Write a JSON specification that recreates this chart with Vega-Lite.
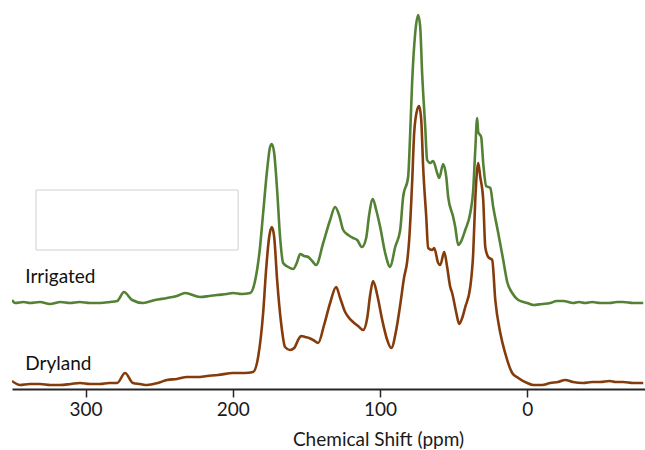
{
  "$schema": "https://vega.github.io/schema/vega-lite/v6.json",
  "width": 633,
  "height": 389,
  "padding": {"left": 12, "top": 0, "right": 0, "bottom": 0},
  "config": {"view": {"stroke": null}, "font": "Lato"},
  "data": {"values": [
      {"series": "Irrigated", "ppm": 350, "v": 89},
      {"series": "Irrigated", "ppm": 347.9, "v": 86},
      {"series": "Irrigated", "ppm": 342, "v": 87},
      {"series": "Irrigated", "ppm": 337.8, "v": 86},
      {"series": "Irrigated", "ppm": 331, "v": 87},
      {"series": "Irrigated", "ppm": 324.2, "v": 85},
      {"series": "Irrigated", "ppm": 317, "v": 87},
      {"series": "Irrigated", "ppm": 310.6, "v": 86},
      {"series": "Irrigated", "ppm": 304, "v": 87},
      {"series": "Irrigated", "ppm": 297.0, "v": 86},
      {"series": "Irrigated", "ppm": 290, "v": 86},
      {"series": "Irrigated", "ppm": 283.4, "v": 87},
      {"series": "Irrigated", "ppm": 278.6, "v": 88},
      {"series": "Irrigated", "ppm": 273.9, "v": 97},
      {"series": "Irrigated", "ppm": 268.4, "v": 89},
      {"series": "Irrigated", "ppm": 261.0, "v": 86},
      {"series": "Irrigated", "ppm": 252.8, "v": 89},
      {"series": "Irrigated", "ppm": 244.7, "v": 91},
      {"series": "Irrigated", "ppm": 238, "v": 93},
      {"series": "Irrigated", "ppm": 232.4, "v": 96},
      {"series": "Irrigated", "ppm": 222.2, "v": 92},
      {"series": "Irrigated", "ppm": 216, "v": 93},
      {"series": "Irrigated", "ppm": 210.7, "v": 94},
      {"series": "Irrigated", "ppm": 204, "v": 95},
      {"series": "Irrigated", "ppm": 199.8, "v": 96},
      {"series": "Irrigated", "ppm": 194, "v": 95},
      {"series": "Irrigated", "ppm": 188.2, "v": 96},
      {"series": "Irrigated", "ppm": 184.9, "v": 108},
      {"series": "Irrigated", "ppm": 181.5, "v": 142},
      {"series": "Irrigated", "ppm": 179.4, "v": 176},
      {"series": "Irrigated", "ppm": 176.7, "v": 219},
      {"series": "Irrigated", "ppm": 174.7, "v": 242},
      {"series": "Irrigated", "ppm": 173.5, "v": 245},
      {"series": "Irrigated", "ppm": 171.9, "v": 236},
      {"series": "Irrigated", "ppm": 169.9, "v": 199},
      {"series": "Irrigated", "ppm": 167.9, "v": 152},
      {"series": "Irrigated", "ppm": 165.8, "v": 126},
      {"series": "Irrigated", "ppm": 162.4, "v": 122},
      {"series": "Irrigated", "ppm": 159.0, "v": 120},
      {"series": "Irrigated", "ppm": 156.3, "v": 127},
      {"series": "Irrigated", "ppm": 154.3, "v": 135},
      {"series": "Irrigated", "ppm": 151.5, "v": 133},
      {"series": "Irrigated", "ppm": 148.8, "v": 132},
      {"series": "Irrigated", "ppm": 146.1, "v": 128},
      {"series": "Irrigated", "ppm": 143.4, "v": 124},
      {"series": "Irrigated", "ppm": 138.6, "v": 146},
      {"series": "Irrigated", "ppm": 133.9, "v": 169},
      {"series": "Irrigated", "ppm": 130.5, "v": 182},
      {"series": "Irrigated", "ppm": 127.8, "v": 174},
      {"series": "Irrigated", "ppm": 125.0, "v": 159},
      {"series": "Irrigated", "ppm": 121.6, "v": 154},
      {"series": "Irrigated", "ppm": 118.3, "v": 151},
      {"series": "Irrigated", "ppm": 115.5, "v": 149},
      {"series": "Irrigated", "ppm": 112.3, "v": 142},
      {"series": "Irrigated", "ppm": 109.4, "v": 151},
      {"series": "Irrigated", "ppm": 107.4, "v": 174},
      {"series": "Irrigated", "ppm": 104.9, "v": 190},
      {"series": "Irrigated", "ppm": 102.6, "v": 179},
      {"series": "Irrigated", "ppm": 99.9, "v": 162},
      {"series": "Irrigated", "ppm": 96.5, "v": 136},
      {"series": "Irrigated", "ppm": 93.1, "v": 122},
      {"series": "Irrigated", "ppm": 89.7, "v": 142},
      {"series": "Irrigated", "ppm": 86.3, "v": 159},
      {"series": "Irrigated", "ppm": 84.3, "v": 192},
      {"series": "Irrigated", "ppm": 80.9, "v": 212},
      {"series": "Irrigated", "ppm": 79.5, "v": 256},
      {"series": "Irrigated", "ppm": 78.2, "v": 306},
      {"series": "Irrigated", "ppm": 76.1, "v": 356},
      {"series": "Irrigated", "ppm": 74.1, "v": 374},
      {"series": "Irrigated", "ppm": 72.7, "v": 362},
      {"series": "Irrigated", "ppm": 71.4, "v": 316},
      {"series": "Irrigated", "ppm": 69.3, "v": 262},
      {"series": "Irrigated", "ppm": 68.0, "v": 229},
      {"series": "Irrigated", "ppm": 65.9, "v": 226},
      {"series": "Irrigated", "ppm": 63.9, "v": 228},
      {"series": "Irrigated", "ppm": 61.2, "v": 216},
      {"series": "Irrigated", "ppm": 59.8, "v": 211},
      {"series": "Irrigated", "ppm": 57.1, "v": 225},
      {"series": "Irrigated", "ppm": 55.0, "v": 212},
      {"series": "Irrigated", "ppm": 53.7, "v": 192},
      {"series": "Irrigated", "ppm": 50.3, "v": 172},
      {"series": "Irrigated", "ppm": 48.9, "v": 162},
      {"series": "Irrigated", "ppm": 46.9, "v": 144},
      {"series": "Irrigated", "ppm": 45.5, "v": 146},
      {"series": "Irrigated", "ppm": 42.1, "v": 159},
      {"series": "Irrigated", "ppm": 38.7, "v": 176},
      {"series": "Irrigated", "ppm": 36.7, "v": 199},
      {"series": "Irrigated", "ppm": 35.3, "v": 239},
      {"series": "Irrigated", "ppm": 34.0, "v": 271},
      {"series": "Irrigated", "ppm": 33.3, "v": 257},
      {"series": "Irrigated", "ppm": 31.3, "v": 252},
      {"series": "Irrigated", "ppm": 29.9, "v": 226},
      {"series": "Irrigated", "ppm": 27.9, "v": 203},
      {"series": "Irrigated", "ppm": 25.1, "v": 201},
      {"series": "Irrigated", "ppm": 23.1, "v": 182},
      {"series": "Irrigated", "ppm": 19.7, "v": 156},
      {"series": "Irrigated", "ppm": 16.3, "v": 129},
      {"series": "Irrigated", "ppm": 13.6, "v": 107},
      {"series": "Irrigated", "ppm": 10.2, "v": 96},
      {"series": "Irrigated", "ppm": 6.1, "v": 89},
      {"series": "Irrigated", "ppm": 0, "v": 86},
      {"series": "Irrigated", "ppm": -4.1, "v": 84},
      {"series": "Irrigated", "ppm": -10, "v": 85},
      {"series": "Irrigated", "ppm": -15.6, "v": 86},
      {"series": "Irrigated", "ppm": -20, "v": 88},
      {"series": "Irrigated", "ppm": -24.5, "v": 88},
      {"series": "Irrigated", "ppm": -31.3, "v": 86},
      {"series": "Irrigated", "ppm": -35, "v": 87},
      {"series": "Irrigated", "ppm": -39.4, "v": 86},
      {"series": "Irrigated", "ppm": -44, "v": 87},
      {"series": "Irrigated", "ppm": -49.6, "v": 86},
      {"series": "Irrigated", "ppm": -56, "v": 86},
      {"series": "Irrigated", "ppm": -61, "v": 87},
      {"series": "Irrigated", "ppm": -65.2, "v": 87},
      {"series": "Irrigated", "ppm": -72, "v": 86},
      {"series": "Irrigated", "ppm": -78.8, "v": 86},
      {"series": "Dryland", "ppm": 350, "v": 8},
      {"series": "Dryland", "ppm": 344.6, "v": 4},
      {"series": "Dryland", "ppm": 338, "v": 5},
      {"series": "Dryland", "ppm": 331.0, "v": 5},
      {"series": "Dryland", "ppm": 324, "v": 4},
      {"series": "Dryland", "ppm": 317.4, "v": 4},
      {"series": "Dryland", "ppm": 310, "v": 5},
      {"series": "Dryland", "ppm": 303.8, "v": 6},
      {"series": "Dryland", "ppm": 297, "v": 5},
      {"series": "Dryland", "ppm": 290.2, "v": 5},
      {"series": "Dryland", "ppm": 284, "v": 6},
      {"series": "Dryland", "ppm": 278.6, "v": 6},
      {"series": "Dryland", "ppm": 273.2, "v": 16},
      {"series": "Dryland", "ppm": 267.8, "v": 6},
      {"series": "Dryland", "ppm": 263, "v": 5},
      {"series": "Dryland", "ppm": 258.2, "v": 4},
      {"series": "Dryland", "ppm": 251, "v": 6},
      {"series": "Dryland", "ppm": 244.7, "v": 9},
      {"series": "Dryland", "ppm": 238, "v": 10},
      {"series": "Dryland", "ppm": 231.1, "v": 12},
      {"series": "Dryland", "ppm": 224, "v": 12},
      {"series": "Dryland", "ppm": 217.5, "v": 13},
      {"series": "Dryland", "ppm": 210, "v": 14},
      {"series": "Dryland", "ppm": 199.8, "v": 16},
      {"series": "Dryland", "ppm": 192, "v": 16},
      {"series": "Dryland", "ppm": 186.2, "v": 17},
      {"series": "Dryland", "ppm": 182.8, "v": 32},
      {"series": "Dryland", "ppm": 179.4, "v": 76},
      {"series": "Dryland", "ppm": 177.4, "v": 119},
      {"series": "Dryland", "ppm": 175.3, "v": 152},
      {"series": "Dryland", "ppm": 173.5, "v": 162},
      {"series": "Dryland", "ppm": 171.9, "v": 152},
      {"series": "Dryland", "ppm": 169.9, "v": 109},
      {"series": "Dryland", "ppm": 167.2, "v": 66},
      {"series": "Dryland", "ppm": 164.5, "v": 42},
      {"series": "Dryland", "ppm": 161.1, "v": 39},
      {"series": "Dryland", "ppm": 158.3, "v": 41},
      {"series": "Dryland", "ppm": 154.9, "v": 51},
      {"series": "Dryland", "ppm": 153.6, "v": 53},
      {"series": "Dryland", "ppm": 150.9, "v": 52},
      {"series": "Dryland", "ppm": 148.2, "v": 51},
      {"series": "Dryland", "ppm": 145.4, "v": 49},
      {"series": "Dryland", "ppm": 142.0, "v": 46},
      {"series": "Dryland", "ppm": 138.0, "v": 64},
      {"series": "Dryland", "ppm": 133.9, "v": 86},
      {"series": "Dryland", "ppm": 129.8, "v": 102},
      {"series": "Dryland", "ppm": 127.1, "v": 91},
      {"series": "Dryland", "ppm": 123.7, "v": 77},
      {"series": "Dryland", "ppm": 121.0, "v": 71},
      {"series": "Dryland", "ppm": 118.3, "v": 67},
      {"series": "Dryland", "ppm": 114.9, "v": 63},
      {"series": "Dryland", "ppm": 111.5, "v": 59},
      {"series": "Dryland", "ppm": 108.7, "v": 71},
      {"series": "Dryland", "ppm": 106.7, "v": 94},
      {"series": "Dryland", "ppm": 104.7, "v": 108},
      {"series": "Dryland", "ppm": 101.9, "v": 94},
      {"series": "Dryland", "ppm": 98.5, "v": 69},
      {"series": "Dryland", "ppm": 95.1, "v": 49},
      {"series": "Dryland", "ppm": 92.4, "v": 41},
      {"series": "Dryland", "ppm": 89.0, "v": 59},
      {"series": "Dryland", "ppm": 86.3, "v": 84},
      {"series": "Dryland", "ppm": 83.6, "v": 112},
      {"series": "Dryland", "ppm": 81.6, "v": 127},
      {"series": "Dryland", "ppm": 80.2, "v": 149},
      {"series": "Dryland", "ppm": 78.2, "v": 206},
      {"series": "Dryland", "ppm": 76.8, "v": 256},
      {"series": "Dryland", "ppm": 74.8, "v": 279},
      {"series": "Dryland", "ppm": 73.4, "v": 283},
      {"series": "Dryland", "ppm": 72.0, "v": 269},
      {"series": "Dryland", "ppm": 70.7, "v": 222},
      {"series": "Dryland", "ppm": 68.6, "v": 172},
      {"series": "Dryland", "ppm": 67.3, "v": 141},
      {"series": "Dryland", "ppm": 64.6, "v": 139},
      {"series": "Dryland", "ppm": 63.2, "v": 141},
      {"series": "Dryland", "ppm": 60.5, "v": 126},
      {"series": "Dryland", "ppm": 59.1, "v": 124},
      {"series": "Dryland", "ppm": 56.4, "v": 137},
      {"series": "Dryland", "ppm": 54.4, "v": 122},
      {"series": "Dryland", "ppm": 52.3, "v": 102},
      {"series": "Dryland", "ppm": 51.0, "v": 96},
      {"series": "Dryland", "ppm": 48.3, "v": 77},
      {"series": "Dryland", "ppm": 46.2, "v": 65},
      {"series": "Dryland", "ppm": 44.2, "v": 71},
      {"series": "Dryland", "ppm": 42.1, "v": 82},
      {"series": "Dryland", "ppm": 38.7, "v": 102},
      {"series": "Dryland", "ppm": 36.7, "v": 136},
      {"series": "Dryland", "ppm": 35.3, "v": 189},
      {"series": "Dryland", "ppm": 33.3, "v": 226},
      {"series": "Dryland", "ppm": 31.9, "v": 212},
      {"series": "Dryland", "ppm": 29.9, "v": 189},
      {"series": "Dryland", "ppm": 28.5, "v": 142},
      {"series": "Dryland", "ppm": 26.5, "v": 132},
      {"series": "Dryland", "ppm": 23.8, "v": 129},
      {"series": "Dryland", "ppm": 21.7, "v": 89},
      {"series": "Dryland", "ppm": 18.3, "v": 56},
      {"series": "Dryland", "ppm": 15.0, "v": 36},
      {"series": "Dryland", "ppm": 10.2, "v": 16},
      {"series": "Dryland", "ppm": 6.1, "v": 11},
      {"series": "Dryland", "ppm": 0, "v": 6},
      {"series": "Dryland", "ppm": -4.1, "v": 4},
      {"series": "Dryland", "ppm": -10, "v": 4},
      {"series": "Dryland", "ppm": -15.6, "v": 6},
      {"series": "Dryland", "ppm": -21, "v": 7},
      {"series": "Dryland", "ppm": -25.8, "v": 9},
      {"series": "Dryland", "ppm": -31, "v": 7},
      {"series": "Dryland", "ppm": -38.1, "v": 6},
      {"series": "Dryland", "ppm": -44, "v": 7},
      {"series": "Dryland", "ppm": -49.6, "v": 7},
      {"series": "Dryland", "ppm": -56, "v": 8},
      {"series": "Dryland", "ppm": -60, "v": 7},
      {"series": "Dryland", "ppm": -65.2, "v": 7},
      {"series": "Dryland", "ppm": -72, "v": 6},
      {"series": "Dryland", "ppm": -78.8, "v": 6},
      {"series": "label", "label": "Irrigated", "ppm": 341, "v": 106},
      {"series": "label", "label": "Dryland", "ppm": 341, "v": 19},
      {"series": "box", "ppm": 333.7, "ppm2": 196.4, "v": 199, "v2": 139}
  ]},
  "encoding": {
    "x": {
      "field": "ppm", "type": "quantitative",
      "scale": {"domain": [350, -80], "nice": false, "zero": false},
      "axis": {
        "values": [300, 200, 100, 0],
        "title": "Chemical Shift (ppm)",
        "titleFont": "Lato", "titleFontSize": 19, "titleFontWeight": "normal", "titleColor": "#1a1a1a",
        "titleX": 366, "titleY": 56, "titleBaseline": "alphabetic",
        "labelFont": "Lato", "labelFontSize": 19, "labelColor": "#1a1a1a", "labelPadding": 3,
        "domainColor": "#262626", "domainWidth": 2,
        "tickColor": "#262626", "tickWidth": 1.5, "tickSize": 8,
        "grid": false
      }
    },
    "y": {"field": "v", "type": "quantitative", "scale": {"domain": [0, 389], "nice": false}, "axis": null}
  },
  "layer": [
    {
      "transform": [{"filter": "datum.series === 'box'"}],
      "mark": {"type": "rect", "filled": false, "stroke": "#d0d0d0", "strokeWidth": 1},
      "encoding": {
        "x2": {"field": "ppm2"},
        "y2": {"field": "v2"}
      }
    },
    {
      "transform": [{"filter": "datum.series === 'Irrigated' || datum.series === 'Dryland'"}],
      "mark": {"type": "line", "interpolate": "monotone", "strokeWidth": 2.6, "clip": true},
      "encoding": {
        "color": {
          "field": "series", "type": "nominal",
          "scale": {"domain": ["Irrigated", "Dryland"], "range": ["#548235", "#843C0C"]},
          "legend": null
        }
      }
    },
    {
      "transform": [{"filter": "datum.series === 'label'"}],
      "mark": {"type": "text", "align": "left", "baseline": "alphabetic", "font": "Lato", "fontSize": 19, "color": "#111111"},
      "encoding": {
        "text": {"field": "label"}
      }
    }
  ]
}
